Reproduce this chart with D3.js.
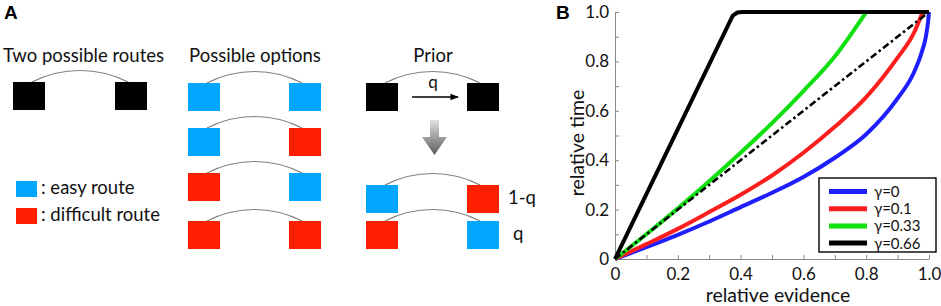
<!DOCTYPE html>
<html>
<head>
<meta charset="utf-8">
<script src="https://cdn.jsdelivr.net/npm/d3@7"></script>
<style>
  body { margin: 0; background: #fff; }
  svg { display: block; font-family: Lato, "Open Sans", sans-serif; }
</style>
</head>
<body>
<div id="main"></div>
<script>
// ---- panel A content ----
var optionRows = [
    ["easy", "easy"],
    ["easy", "difficult"],
    ["difficult", "easy"],
    ["difficult", "difficult"],
];
var priorRows = [
    ["easy", "difficult"],
    ["difficult", "easy"],
];
var priorProbs = ["1-q", "q"];
var routeLegend = [
    ["easy", ": easy route"],
    ["difficult", ": difficult route"],
];

// ---- panel B curves, [relative evidence, relative time] ----
var curveG0 = [[0, 0], [0.1, 0.048], [0.2, 0.098], [0.3, 0.152], [0.4, 0.21], [0.5, 0.268],
    [0.6, 0.332], [0.7, 0.41], [0.8, 0.505], [0.9, 0.65], [0.95, 0.75], [0.975, 0.83],
    [0.99, 0.9], [0.997, 0.96], [1, 1]];
var curveG01 = [[0, 0], [0.1, 0.06], [0.2, 0.122], [0.3, 0.19], [0.4, 0.26], [0.5, 0.338],
    [0.6, 0.43], [0.7, 0.535], [0.8, 0.655], [0.9, 0.815], [0.95, 0.91], [0.98, 1]];
var curveG033 = [[0, 0], [0.1, 0.1], [0.2, 0.205], [0.3, 0.315], [0.4, 0.43], [0.5, 0.55],
    [0.6, 0.68], [0.7, 0.82], [0.8, 1]];
var curveG066 = [[0, 0], [0.375, 0.985], [0.39, 0.998], [0.405, 1], [1, 1]];
var diagonal = [[0, 0], [1, 1]];

var gammaLabels = ["γ=0", "γ=0.1", "γ=0.33", "γ=0.66"];
var tickValues = [0, 0.1, 0.2, 0.3, 0.4, 0.5, 0.6, 0.7, 0.8, 0.9, 1.0];
var tickLabels = ["0", "", "0.2", "", "0.4", "", "0.6", "", "0.8", "", "1.0"];

var ctx = {
    w: 941,
    h: 306,
    blue: "#00a6ff",
    red: "#ff1e00",
    sqW: 32,
    sqH: 28,
    lineColors: ["#1e1eff", "#ff1e1e", "#10e010", "#000000"],
    plot: { left: 615, right: 929, top: 12, bottom: 259 },
};

function routeColor(kind) {
    if (kind === "easy") return ctx.blue;
    if (kind === "difficult") return ctx.red;
    return "#000";
}

// two squares joined by a shallow arc
function drawPair(g, x0, x1, y, left, right) {
    var ax0 = x0 + 19, ax1 = x1 + 13;
    var chord = ax1 - ax0, sag = 11.5;
    var r = (chord * chord / 4 + sag * sag) / (2 * sag);
    g.append("path")
        .attr("d", "M" + ax0 + "," + y + " A" + r + "," + r + " 0 0 1 " + ax1 + "," + y)
        .attr("fill", "none")
        .attr("stroke", "#808080")
        .attr("stroke-width", 1.1);
    g.append("rect").attr("x", x0).attr("y", y).attr("width", ctx.sqW).attr("height", ctx.sqH)
        .attr("fill", routeColor(left));
    g.append("rect").attr("x", x1).attr("y", y).attr("width", ctx.sqW).attr("height", ctx.sqH)
        .attr("fill", routeColor(right));
}

function drawPanelA(svg) {
    var g = svg.append("g").attr("id", "panelA");
    g.append("text").attr("x", 4).attr("y", 19)
        .style("font-family", "'Liberation Sans', Arial, sans-serif")
        .style("font-weight", "bold").style("font-size", "19px").text("A");

    var title = function (x, anchor, txt) {
        g.append("text").attr("x", x).attr("y", 62).attr("text-anchor", anchor)
            .style("font-size", "18.5px").attr("fill", "#111").text(txt);
    };
    title(3, "start", "Two possible routes");
    title(255, "middle", "Possible options");
    title(433, "middle", "Prior");

    drawPair(g, 13, 115, 82, "unknown", "unknown");

    var rowY = [83, 128, 173, 221];
    optionRows.forEach(function (row, i) {
        drawPair(g, 188, 289, rowY[i], row[0], row[1]);
    });

    // route legend
    routeLegend.forEach(function (d, i) {
        var y = [181, 208][i];
        g.append("rect").attr("x", 16).attr("y", y).attr("width", 21).attr("height", 16)
            .attr("fill", routeColor(d[0]));
        g.append("text").attr("x", 41).attr("y", y + 13).style("font-size", "18.5px")
            .attr("fill", "#111").text(d[1]);
    });

    // prior
    drawPair(g, 366, 467, 83, "unknown", "unknown");
    var defs = svg.append("defs");
    defs.append("marker").attr("id", "head").attr("viewBox", "0 0 10 10")
        .attr("refX", 9).attr("refY", 5).attr("markerWidth", 6).attr("markerHeight", 6)
        .attr("orient", "auto")
        .append("path").attr("d", "M0,1 L10,5 L0,9 Z").attr("fill", "#000");
    g.append("line").attr("x1", 412).attr("x2", 458).attr("y1", 97).attr("y2", 97)
        .attr("stroke", "#000").attr("stroke-width", 1.4).attr("marker-end", "url(#head)");
    g.append("text").attr("x", 433).attr("y", 88).attr("text-anchor", "middle")
        .style("font-size", "17px").attr("fill", "#111").text("q");

    var grad = defs.append("linearGradient").attr("id", "arrowGrad")
        .attr("x1", 0).attr("x2", 0).attr("y1", 0).attr("y2", 1);
    grad.append("stop").attr("offset", "0%").attr("stop-color", "#e0e0e0");
    grad.append("stop").attr("offset", "100%").attr("stop-color", "#5c5c5c");
    g.append("path")
        .attr("d", "M430,120 L439,120 L439,137 L447,137 L434.5,155 L422,137 L430,137 Z")
        .attr("fill", "url(#arrowGrad)");

    var priorY = [185, 221];
    priorRows.forEach(function (row, i) {
        drawPair(g, 366, 467, priorY[i], row[0], row[1]);
        g.append("text").attr("x", i === 0 ? 508 : 513).attr("y", priorY[i] + 19)
            .style("font-size", "18.5px").attr("fill", "#111").text(priorProbs[i]);
    });
}

function drawPanelB(svg) {
    var p = ctx.plot;
    var g = svg.append("g").attr("id", "panelB");
    g.append("text").attr("x", 556).attr("y", 19)
        .style("font-family", "'Liberation Sans', Arial, sans-serif")
        .style("font-weight", "bold").style("font-size", "19px").text("B");

    var x = d3.scaleLinear().domain([0, 1]).range([p.left, p.right]);
    var y = d3.scaleLinear().domain([0, 1]).range([p.bottom, p.top]);

    var xAxis = g.append("g").attr("transform", "translate(0," + p.bottom + ")")
        .call(d3.axisBottom(x).tickValues(tickValues).tickSizeInner(-4).tickSizeOuter(0)
            .tickPadding(9).tickFormat(function (d, i) { return tickLabels[i]; }));
    var yAxis = g.append("g").attr("transform", "translate(" + p.left + ",0)")
        .call(d3.axisLeft(y).tickValues(tickValues).tickSizeInner(-4).tickSizeOuter(0)
            .tickPadding(6).tickFormat(function (d, i) { return tickLabels[i]; }));
    [xAxis, yAxis].forEach(function (a) {
        a.select(".domain").attr("stroke", "#8a8a8a");
        a.selectAll(".tick line").attr("stroke", "#8a8a8a");
        a.selectAll("text").style("font-family", "Lato, sans-serif")
            .style("font-size", "17px").attr("fill", "#111");
    });

    g.append("text").attr("x", 778).attr("y", 302).attr("text-anchor", "middle")
        .style("font-size", "19.5px").attr("fill", "#111").text("relative evidence");
    g.append("text").attr("transform", "translate(584,143) rotate(-90)")
        .attr("text-anchor", "middle")
        .style("font-size", "19.5px").attr("fill", "#111").text("relative time");

    var line = d3.line()
        .x(function (d) { return x(d[0]); })
        .y(function (d) { return y(d[1]); });
    var smooth = d3.line()
        .x(function (d) { return x(d[0]); })
        .y(function (d) { return y(d[1]); })
        .curve(d3.curveMonotoneX);

    var curves = [curveG0, curveG01, curveG033, curveG066];
    curves.forEach(function (c, i) {
        g.append("path").datum(c).attr("d", i < 3 ? smooth : line)
            .attr("fill", "none").attr("stroke", ctx.lineColors[i])
            .attr("stroke-width", 4).attr("stroke-linejoin", "round");
    });
    g.append("path").datum(diagonal).attr("d", line)
        .attr("fill", "none").attr("stroke", "#000").attr("stroke-width", 2.6)
        .attr("stroke-dasharray", "7,3,2.5,3");

    // legend
    var lg = g.append("g");
    lg.append("rect").attr("x", 819).attr("y", 178).attr("width", 117).attr("height", 74)
        .attr("fill", "#fff").attr("stroke", "#000").attr("stroke-width", 1.4);
    gammaLabels.forEach(function (lab, i) {
        var ly = 191.5 + i * 17.2;
        lg.append("line").attr("x1", 829).attr("x2", 867).attr("y1", ly).attr("y2", ly)
            .attr("stroke", ctx.lineColors[i]).attr("stroke-width", 5);
        lg.append("text").attr("x", 874).attr("y", ly + 5.5)
            .style("font-size", "15px").attr("fill", "#111").text(lab);
    });
}

var createViz = function () {
    var svg = d3.select("#main").append("svg")
        .attr("width", ctx.w).attr("height", ctx.h);
    drawPanelA(svg);
    drawPanelB(svg);
};

createViz();
</script>
</body>
</html>
